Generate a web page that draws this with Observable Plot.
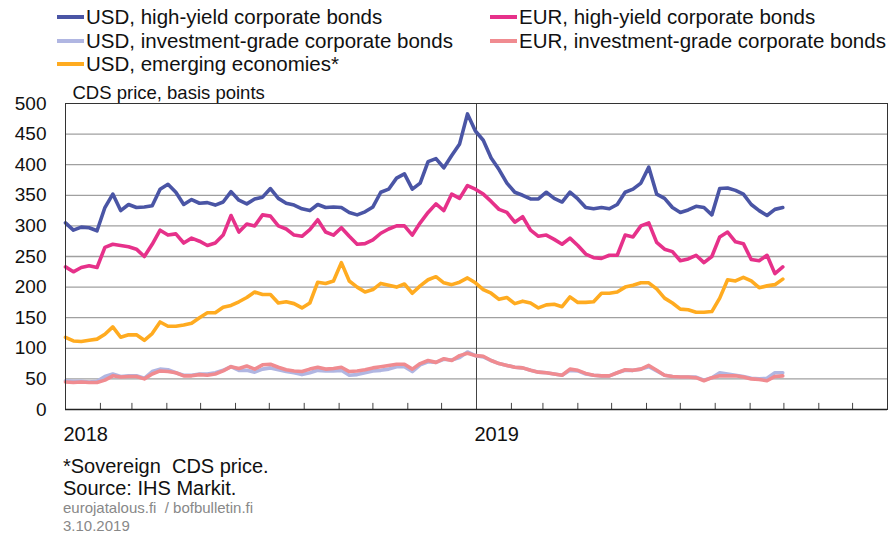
<!DOCTYPE html>
<html>
<head>
<meta charset="utf-8">
<script src="https://cdn.jsdelivr.net/npm/d3@7"></script>
<script src="https://cdn.jsdelivr.net/npm/@observablehq/plot@0.6"></script>
<style>
  body { margin: 0; background: #fff; font-family: "Liberation Sans", Arial, sans-serif; }
  #wrap { position: relative; width: 894px; height: 533px; overflow: hidden; }
  #legend { position: relative; height: 80px; }
  .li { position: absolute; font-size: 20.5px; color: #111; white-space: nowrap; line-height: 24px; }
  .sw { display: inline-block; width: 27px; height: 4px; vertical-align: middle; margin-right: 2px; position: relative; top: -2px; }
  #foot { position: absolute; left: 63px; top: 455px; color: #111; }
  #foot .a { font-size: 20px; line-height: 22px; }
  #foot .b { font-size: 15px; line-height: 18px; color: #888; }
</style>
</head>
<body>
<div id="wrap">
  <div id="legend"></div>
  <div id="chart"></div>
  <div id="foot">
    <div class="a">*Sovereign&nbsp; CDS price.</div>
    <div class="a">Source: IHS Markit.</div>
    <div class="b">eurojatalous.fi &nbsp;/ bofbulletin.fi</div>
    <div class="b">3.10.2019</div>
  </div>
</div>
<script>
// Series names and colours
const seriesNames = [
  "USD, high-yield corporate bonds",
  "EUR, high-yield corporate bonds",
  "USD, investment-grade corporate bonds",
  "EUR, investment-grade corporate bonds",
  "USD, emerging economies*"
];
const seriesColors = ["#4a55a5", "#e6318a", "#b0b6e2", "#f08b90", "#ffab20"];

// Weekly observations starting 2018-01-01
const startDate = "2018-01-01";
const usdHY = [305,293,298,297,292,330,352,325,335,330,331,333,360,368,355,335,343,337,338,334,339,356,342,336,344,347,361,345,337,334,328,325,335,330,331,330,322,318,323,331,355,360,378,385,360,370,405,410,395,415,434,483,455,440,411,392,370,355,350,344,344,355,345,339,355,344,330,328,330,328,335,355,360,370,396,352,345,330,322,326,332,330,318,361,362,358,352,335,325,317,327,330];
const eurHY = [233,225,232,235,232,265,270,268,266,262,250,270,293,285,287,272,280,275,268,272,285,317,290,303,300,318,316,300,295,285,283,294,310,290,285,297,283,270,271,277,288,295,300,300,285,305,322,336,325,352,345,366,360,352,340,327,322,306,315,293,283,285,278,270,280,268,254,248,247,252,252,285,282,300,305,273,262,258,243,246,252,240,250,282,290,274,271,245,243,252,222,233];
const usdIG = [47,46,46,45,46,54,58,54,55,55,51,62,66,65,60,56,56,58,58,60,64,70,64,64,61,66,68,65,62,60,57,60,64,63,63,64,56,57,60,63,64,66,70,70,62,73,78,77,82,81,85,94,88,86,80,75,72,69,68,64,61,60,58,56,64,63,58,56,55,55,60,64,64,66,70,63,56,54,53,53,53,48,52,60,58,56,54,51,50,51,60,60];
const eurIG = [45,44,45,44,44,48,55,53,54,54,50,58,63,62,60,55,55,57,56,58,63,70,67,71,66,73,74,69,65,63,62,66,69,66,67,69,62,63,65,68,70,72,74,74,66,75,80,77,83,80,88,92,88,87,80,75,72,69,68,64,61,60,58,56,66,64,59,56,55,55,60,65,64,66,72,64,56,54,53,53,52,47,52,55,55,55,53,50,49,47,54,55];
const usdEM = [118,112,111,113,115,123,135,118,122,122,113,124,143,136,136,138,141,150,158,158,167,170,176,183,192,188,188,174,176,173,166,174,208,206,210,240,210,200,192,196,206,203,200,205,190,202,212,217,207,204,208,215,207,196,190,180,183,173,177,174,166,171,172,168,184,175,175,176,190,190,192,200,203,207,207,197,182,174,164,163,159,159,160,182,212,210,216,210,199,202,204,213];

const yTicks = [0, 50, 100, 150, 200, 250, 300, 350, 400, 450, 500];
const yearTicks = ["2018-01-01", "2019-01-01"];

// Build long table
const t0 = new Date(startDate);
const allSeries = [usdHY, eurHY, usdIG, eurIG, usdEM];
const rows = [];
allSeries.forEach((arr, s) => {
  arr.forEach((v, i) => rows.push({date: d3.utcDay.offset(t0, 7 * i), value: v, series: seriesNames[s]}));
});
const months = d3.utcMonth.range(new Date("2018-02-01"), new Date("2020-01-01"));

// Legend
const legend = document.getElementById("legend");
const legendPos = [[57, 5], [490, 5], [57, 29], [490, 29], [57, 52]];
seriesNames.forEach((name, i) => {
  const d = document.createElement("div");
  d.className = "li";
  d.style.left = legendPos[i][0] + "px";
  d.style.top = legendPos[i][1] + "px";
  d.innerHTML = `<span class="sw" style="background:${seriesColors[i]}"></span>${name}`;
  legend.appendChild(d);
});

const chart = Plot.plot({
  width: 894,
  height: 370,
  marginTop: 23,
  marginBottom: 41,
  marginLeft: 65,
  marginRight: 7,
  style: {fontFamily: "Liberation Sans, Arial, sans-serif", background: "#fff"},
  x: {type: "utc", domain: [new Date("2018-01-01"), new Date("2020-01-01")]},
  y: {domain: [0, 500]},
  color: {domain: seriesNames, range: seriesColors},
  marks: [
    Plot.ruleY(yTicks.filter(d => d > 0 && d < 500), {stroke: "#a0a0a0", strokeWidth: 1.3}),
    Plot.ruleX([new Date("2019-01-01")], {stroke: "#444", strokeWidth: 1}),
    Plot.ruleX(months, {y1: 0, y2: 10, stroke: "#444", strokeWidth: 1}),
    Plot.lineY(rows, {x: "date", y: "value", z: "series", stroke: "series", strokeWidth: 3.6, strokeLinejoin: "round", strokeLinecap: "round"}),
    Plot.frame({stroke: "#333", strokeWidth: 1}),
    Plot.ruleY([0], {stroke: "#222", strokeWidth: 1.5}),
    Plot.axisY(yTicks, {tickSize: 0, tickPadding: 19, fontSize: 19, fill: "#111", label: null}),
    Plot.axisX(yearTicks.map(d => new Date(d)), {tickSize: 0, tickPadding: 17, fontSize: 20, fill: "#111", tickFormat: d3.utcFormat("%Y"), textAnchor: "start", dx: -2, label: null}),
    Plot.text(["CDS price, basis points"], {frameAnchor: "top-left", dx: 7, dy: -5, lineAnchor: "bottom", fontSize: 18.5, fill: "#111", textAnchor: "start"})
  ]
});
document.getElementById("chart").appendChild(chart);
</script>
</body>
</html>
